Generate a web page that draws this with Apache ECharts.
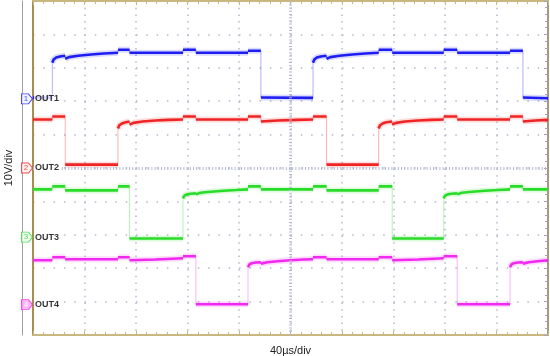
<!DOCTYPE html>
<html>
<head>
<meta charset="utf-8">
<script src="https://cdn.jsdelivr.net/npm/echarts@6/dist/echarts.min.js"></script>
<style>
  html, body { margin: 0; padding: 0; background: #fff; }
  #chart { width: 550px; height: 356px; }
</style>
</head>
<body>
<div id="chart"></div>
<script>
// time in µs (trigger at 0), value in V relative to each channel's ground
var out1 = [
    [-200, 0.4], [-185, 0.4],
    [-185, 10.8], [-184, 11.8], [-182, 12.4], [-179, 12.7], [-175, 12.9],
    [-175, 12.0], [-172, 12.5], [-165, 12.9], [-155, 13.3], [-145, 13.6], [-134, 13.8],
    [-134, 14.7], [-125, 14.7],
    [-125, 13.8], [-83.5, 13.8],
    [-83.5, 14.7], [-73.5, 14.7],
    [-73.5, 13.8], [-33, 13.8],
    [-33, 14.4], [-23, 14.4],
    [-23, 0.4], [17.5, 0.3],
    [17.5, 10.8], [18.5, 11.8], [20.5, 12.4], [23.5, 12.7], [28, 12.9],
    [28, 12.0], [31, 12.5], [38, 12.9], [48, 13.3], [58, 13.6], [68.5, 13.8],
    [68.5, 14.7], [79, 14.7],
    [79, 13.8], [119, 13.8],
    [119, 14.7], [129.5, 14.7],
    [129.5, 13.8], [170.5, 13.8],
    [170.5, 14.4], [180.5, 14.4],
    [180.5, 0.4], [200, 0.2]
];
var out2 = [
    [-200, 14.5], [-185, 14.5],
    [-185, 15.4], [-175, 15.4],
    [-175, 1.0], [-134, 1.0],
    [-134, 11.8], [-133, 12.8], [-131, 13.3], [-128, 13.7], [-125, 13.9],
    [-125, 13.0], [-122, 13.5], [-115, 13.9], [-105, 14.2], [-95, 14.4], [-83.5, 14.5],
    [-83.5, 15.4], [-73.5, 15.4],
    [-73.5, 14.5], [-33, 14.5],
    [-33, 15.4], [-23, 15.4],
    [-23, 13.9], [-10, 14.2], [5, 14.4], [17.5, 14.5],
    [17.5, 15.4], [28, 15.4],
    [28, 1.0], [68.5, 1.0],
    [68.5, 11.8], [69.5, 12.8], [71.5, 13.3], [74.5, 13.7], [79, 13.9],
    [79, 13.0], [82, 13.5], [89, 13.9], [99, 14.2], [109, 14.4], [119, 14.5],
    [119, 15.4], [129.5, 15.4],
    [129.5, 14.5], [170.5, 14.5],
    [170.5, 15.4], [180.5, 15.4],
    [180.5, 13.9], [190, 14.2], [200, 14.4]
];
var out3 = [
    [-200, 14.3], [-185, 14.3],
    [-185, 15.2], [-175, 15.2],
    [-175, 14.0], [-134, 14.0],
    [-134, 15.2], [-125, 15.2],
    [-125, -0.4], [-83.5, -0.4],
    [-83.5, 11.6], [-82.5, 12.4], [-80.5, 12.8], [-77.5, 13.0], [-73.5, 13.1],
    [-73.5, 12.8], [-70, 13.3], [-62, 13.6], [-52, 13.9], [-42, 14.1], [-33, 14.3],
    [-33, 15.2], [-23, 15.2],
    [-23, 14.3], [17.5, 14.3],
    [17.5, 15.2], [28, 15.2],
    [28, 14.0], [68.5, 14.0],
    [68.5, 15.2], [79, 15.2],
    [79, -0.4], [119, -0.4],
    [119, 11.6], [120, 12.4], [122, 12.8], [125, 13.0], [129.5, 13.1],
    [129.5, 12.8], [133, 13.3], [141, 13.6], [151, 13.9], [161, 14.1], [170.5, 14.3],
    [170.5, 15.2], [180.5, 15.2],
    [180.5, 14.3], [200, 14.3]
];
var out4 = [
    [-200, 13.3], [-185, 13.3],
    [-185, 14.2], [-175, 14.2],
    [-175, 13.6], [-134, 13.6],
    [-134, 14.2], [-125, 14.2],
    [-125, 13.3], [-105, 13.5], [-83.5, 13.9],
    [-83.5, 14.5], [-73.5, 14.5],
    [-73.5, 0.1], [-33, 0.1],
    [-33, 11.2], [-32, 12.0], [-30, 12.4], [-27, 12.6], [-23, 12.7],
    [-23, 12.2], [-18, 12.7], [-10, 13.0], [0, 13.3], [10, 13.5], [17.5, 13.6],
    [17.5, 14.2], [28, 14.2],
    [28, 13.6], [68.5, 13.6],
    [68.5, 14.2], [79, 14.2],
    [79, 13.3], [99, 13.5], [119, 13.9],
    [119, 14.5], [129.5, 14.5],
    [129.5, 0.1], [170.5, 0.1],
    [170.5, 11.2], [171.5, 12.0], [173.5, 12.4], [176.5, 12.6], [180.5, 12.7],
    [180.5, 12.2], [185, 12.7], [192, 13.0], [200, 13.3]
];

var channelNames = ['OUT1', 'OUT2', 'OUT3', 'OUT4'];
var grounds = [20.7, 0, -20.7, -40.9];   // screen position of each ground marker (V)
var colors = ['#1e1ef2', '#f02424', '#28dc28', '#f028f0'];
var fills = ['#eef0ff', '#fff0f0', '#f0fff0', '#f8a8f8'];
var traces = [out1, out2, out3, out4];

var font = "'Liberation Sans', Arial, sans-serif";
var gridCol = '#b4b8cc';

// shift a trace onto its ground position
function place(pts, g) {
    return pts.map(function (p) { return [p[0], p[1] + g]; });
}
// break the line at vertical edges so they can be drawn thin
function flats(pts) {
    var res = [];
    pts.forEach(function (p, i) {
        if (i > 0 && p[0] === pts[i - 1][0]) res.push([p[0], '-']);
        res.push(p);
    });
    return res;
}

var series = [];
traces.forEach(function (tr, i) {
    var pts = place(tr, grounds[i]);
    series.push({
        type: 'line', data: pts, symbol: 'none', silent: true,
        lineStyle: { color: colors[i], width: 1, opacity: 0.35 }
    });
    series.push({
        type: 'line', data: flats(pts), symbol: 'none', silent: true,
        lineStyle: { color: colors[i], width: 6, opacity: 0.16 }
    });
    series.push({
        type: 'line', data: flats(pts), symbol: 'none', silent: true,
        lineStyle: { color: colors[i], width: 2.6 }
    });
});

// centre cross lines
series[0].markLine = {
    silent: true, symbol: 'none', animation: false,
    label: { show: false },
    lineStyle: { color: '#b4b8d0', width: 3, type: [1, 2.2] },
    data: [{ xAxis: 0 }, { yAxis: 0 }]
};

// channel ground markers
series.push({
    type: 'scatter', clip: false, silent: true, z: 10,
    symbol: 'path://M0,0 L7,0 L11,5 L7,10 L0,10 Z',
    symbolSize: [11, 10], symbolOffset: [-6, 0],
    data: grounds.map(function (g, i) {
        return {
            value: [-200, g],
            itemStyle: { color: fills[i], borderColor: colors[i], borderWidth: 1 },
            label: { color: i === 3 ? '#fff' : colors[i] }
        };
    }),
    label: {
        show: true, position: 'inside', offset: [-1, 0],
        fontSize: 8, fontFamily: font,
        formatter: function (p) { return String(p.dataIndex + 1); }
    }
});
series.push({
    type: 'scatter', clip: false, silent: true, z: 10,
    symbolSize: 0,
    data: grounds.map(function (g) { return [-200, g]; }),
    label: {
        show: true, position: 'right', distance: 1,
        fontSize: 9, fontWeight: 'bold', color: '#000', fontFamily: font,
        backgroundColor: '#fff', padding: [0, 1],
        formatter: function (p) { return channelNames[p.dataIndex]; }
    }
});

var myChart = echarts.init(document.getElementById('chart'));
var options = {
    animation: false,
    backgroundColor: '#fff',
    grid: { left: 33, right: 2, top: 1, bottom: 21, outerBoundsMode: 'none', containLabel: false },
    xAxis: [
        {
            type: 'value', min: -200, max: 200, interval: 40, position: 'bottom',
            axisLine: { onZero: false, lineStyle: { color: '#c8b880', width: 2 } },
            axisTick: { show: true, inside: true, length: 4, lineStyle: { color: '#c8b880' } },
            minorTick: { show: true, splitNumber: 5, length: 3, lineStyle: { color: '#c8b880' } },
            axisLabel: { show: false },
            splitLine: { show: true, lineStyle: { color: gridCol, width: 1.5, type: [1.5, 5.2] } },
            name: '40µs/div', nameLocation: 'middle', nameGap: 10,
            nameTextStyle: { fontSize: 11, color: '#222', fontFamily: font }
        },
        {
            type: 'value', min: -200, max: 200, interval: 40, position: 'top',
            axisLine: { onZero: false, lineStyle: { color: '#c8b880', width: 2 } },
            axisTick: { show: true, inside: true, length: 4, lineStyle: { color: '#c8b880' } },
            minorTick: { show: true, splitNumber: 5, length: 3, lineStyle: { color: '#c8b880' } },
            axisLabel: { show: false },
            splitLine: { show: false }
        }
    ],
    yAxis: [
        {
            type: 'value', min: -50, max: 50, interval: 10, position: 'left',
            axisLine: { onZero: false, lineStyle: { color: '#a88c50', width: 2 } },
            axisTick: { show: false },
            axisLabel: { show: false },
            splitLine: { show: true, lineStyle: { color: gridCol, width: 1.5, type: [1.5, 8.8] } },
            name: '10V/div', nameLocation: 'middle', nameGap: 19, nameRotate: 90,
            nameTextStyle: { fontSize: 11, color: '#222', fontFamily: font }
        },
        {
            type: 'value', min: -50, max: 50, interval: 10, position: 'right',
            axisLine: { onZero: false, lineStyle: { color: '#a89878', width: 2 } },
            axisTick: { show: true, inside: true, length: 4, lineStyle: { color: '#a0a4bc' } },
            minorTick: { show: true, splitNumber: 5, length: 3, lineStyle: { color: '#a0a4bc' } },
            axisLabel: { show: false },
            splitLine: { show: false }
        },
        {
            type: 'value', min: -50, max: 50, position: 'left', offset: 11,
            axisLine: { onZero: false, lineStyle: { color: '#a0a0a0', width: 1 } },
            axisTick: { show: false },
            axisLabel: { show: false },
            splitLine: { show: false }
        }
    ],
    series: series
};
myChart.setOption(options);
</script>
</body>
</html>
